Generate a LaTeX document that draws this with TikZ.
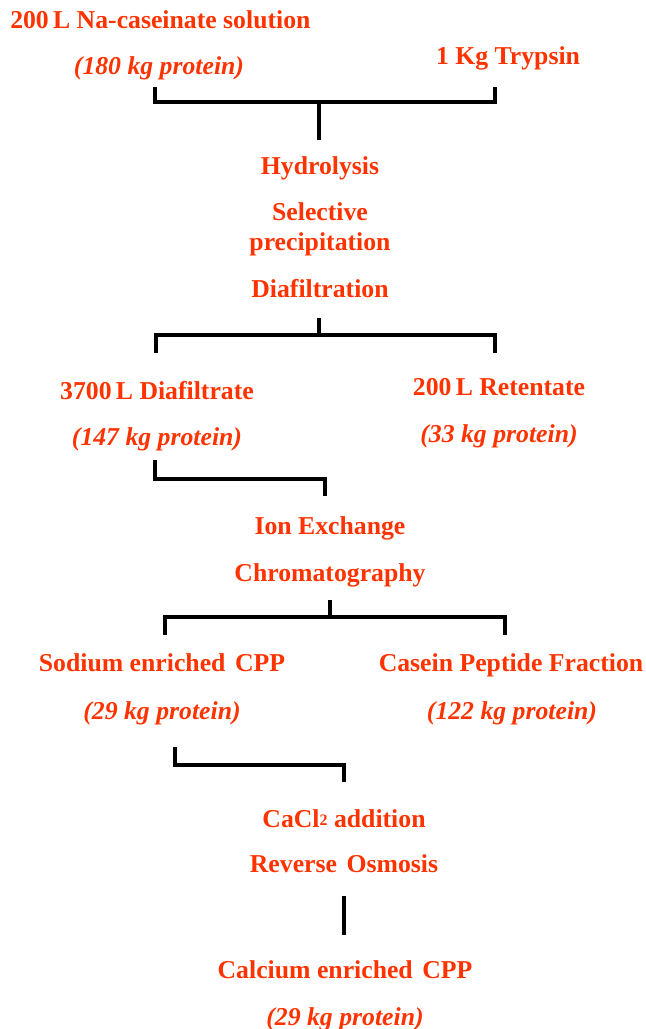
\documentclass[tikz,border=0pt]{standalone}
\usepackage{fontspec}
\setmainfont{Liberation Serif}
\definecolor{txt}{RGB}{255,51,0}
\begin{document}
\begin{tikzpicture}[x=0.75pt,y=-0.75pt,
  lbl/.style={inner sep=0pt,anchor=base,text=txt,font=\fontsize{19.3}{23}\selectfont\bfseries},
  amt/.style={lbl,font=\fontsize{19.3}{23}\selectfont\bfseries\itshape},
  conn/.style={draw=black,line width=3pt,line cap=butt,line join=miter}]
\useasboundingbox (0,0) rectangle (646,1029);
% texts
\node[lbl,anchor=base west] (na) at (10,28) {200\,L Na-caseinate solution};
\node[amt] (na2) at (159,74) {(180 kg protein)};
\node[lbl] (tr) at (508,64) {1 Kg Trypsin};
\node[lbl] (hy) at (320,174) {Hydrolysis};
\node[lbl] (se) at (320,220) {Selective};
\node[lbl] (pr) at (320,250) {precipitation};
\node[lbl] (di) at (320,297) {Diafiltration};
\node[lbl] (df) at (157,399) {3700\,L Diafiltrate};
\node[lbl] (re) at (499,395) {200\,L Retentate};
\node[amt] (df2) at (157,445) {(147 kg protein)};
\node[amt] (re2) at (499,442) {(33 kg protein)};
\node[lbl] (ie) at (330,534) {Ion Exchange};
\node[lbl] (ch) at (330,581) {Chromatography};
\node[lbl] (so) at (162,671) {Sodium enriched\hspace{0.12em} CPP};
\node[lbl] (cp) at (511,671) {Casein Peptide Fraction};
\node[amt] (so2) at (162,719) {(29 kg protein)};
\node[amt] (cp2) at (512,719) {(122 kg protein)};
\node[lbl] (ca) at (344,827) {CaCl\raisebox{0.05em}{\fontsize{12}{12}\selectfont 2} addition};
\node[lbl] (ro) at (344,872) {Reverse\hspace{0.12em} Osmosis};
\node[lbl] (ce) at (345,978) {Calcium enriched\hspace{0.12em} CPP};
\node[amt] (ce2) at (345,1025) {(29 kg protein)};
% connector coordinates
\coordinate (b1l) at (155,87);
\coordinate (b1r) at (495,87);
\coordinate (b1m) at (319,102);
\coordinate (b1s) at (319,140);
\coordinate (b2s) at (319,318);
\coordinate (b2m) at (319,335);
\coordinate (b2l) at (156,353);
\coordinate (b2r) at (495,353);
\coordinate (b3a) at (155,460);
\coordinate (b3m) at (325,479);
\coordinate (b3b) at (325,496);
\coordinate (b4s) at (330,600);
\coordinate (b4m) at (330,617);
\coordinate (b4l) at (165,635);
\coordinate (b4r) at (505,635);
\coordinate (b5a) at (175,747);
\coordinate (b5m) at (344,765);
\coordinate (b5b) at (344,782);
\coordinate (b6a) at (344,896);
\coordinate (b6b) at (344,935);
% connectors
\draw[conn] (b1l) |- (b1m) -| (b1r);
\draw[conn] (b1m) -- (b1s);
\draw[conn] (b2l) |- (b2m) -| (b2r);
\draw[conn] (b2s) -- (b2m);
\draw[conn] (b3a) |- (b3m) -- (b3b);
\draw[conn] (b4l) |- (b4m) -| (b4r);
\draw[conn] (b4s) -- (b4m);
\draw[conn] (b5a) |- (b5m) -- (b5b);
\draw[conn] (b6a) -- (b6b);
\end{tikzpicture}
\end{document}
